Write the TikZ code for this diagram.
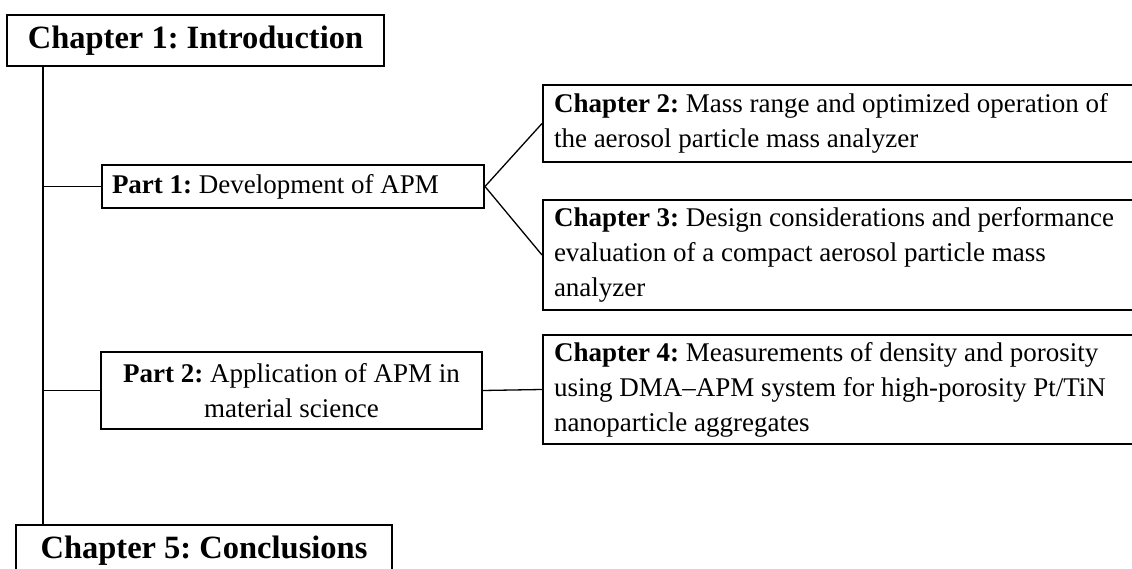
\documentclass[tikz,border=0pt]{standalone}
\usepackage{fontspec}
\setmainfont{Liberation Serif}
\frenchspacing

\begin{document}
\begin{tikzpicture}[x=1pt, y=-1pt, thick,
  head/.style = {draw, line width=2pt, font=\fontsize{32.5}{38}\selectfont\bfseries, minimum height=51pt, inner sep=0pt},
  part/.style = {draw, line width=2pt, font=\fontsize{27}{35}\selectfont, inner xsep=10pt, inner ysep=0pt},
  chap/.style = {draw, line width=2pt, font=\fontsize{27}{35}\selectfont, anchor=west, text width=578pt, inner xsep=11pt, inner ysep=0pt, align=flush left},
  link/.style = {line width=1.3pt}]
	\useasboundingbox (0,0) rectangle (1132,569);
	\clip (0,0) rectangle (1132,569);

		\node[head, minimum width=377pt] (c1) at (195.5,40.5) {Chapter 1: Introduction};
		\node[part, anchor=west, minimum height=43pt, text width=362pt, align=flush left] (p1) at (101,186.5) {\textbf{Part 1:} Development of APM};
		\node[part, minimum width=381pt, minimum height=77pt, align=center] (p2) at (291.5,390.5) {\textbf{Part 2:} Application of APM in\\ material science};
		\node[chap, minimum height=77pt] (c2) at (542,123.5) {\textbf{Chapter 2:} Mass range and optimized operation of\\ the aerosol particle mass analyzer};
		\node[chap, minimum height=110pt] (c3) at (542,255) {\textbf{Chapter 3:} Design considerations and performance\\ evaluation of a compact aerosol particle mass\\ analyzer};
		\node[chap, minimum height=109pt] (c4) at (542,389.5) {\textbf{Chapter 4:} Measurements of density and porosity\\ using DMA--APM system for high-porosity Pt/TiN\\ nanoparticle aggregates};
		\node[head, minimum width=376pt] (c5) at (204,550.5) {Chapter 5: Conclusions};
		\coordinate (t) at (43,0);

		\draw[line width=1.6pt] (c1.south -| t) -- (c5.north -| t);
		\draw[link] (t |- p1.west) -- (p1.west);
		\draw[link] (t |- p2.west) -- (p2.west);
		\draw[link] (p1.east) -- (c2.west);
		\draw[link] (p1.east) -- (c3.west);
		\draw[link] (p2.east) -- (c4.west);
	\end{tikzpicture}
\end{document}
